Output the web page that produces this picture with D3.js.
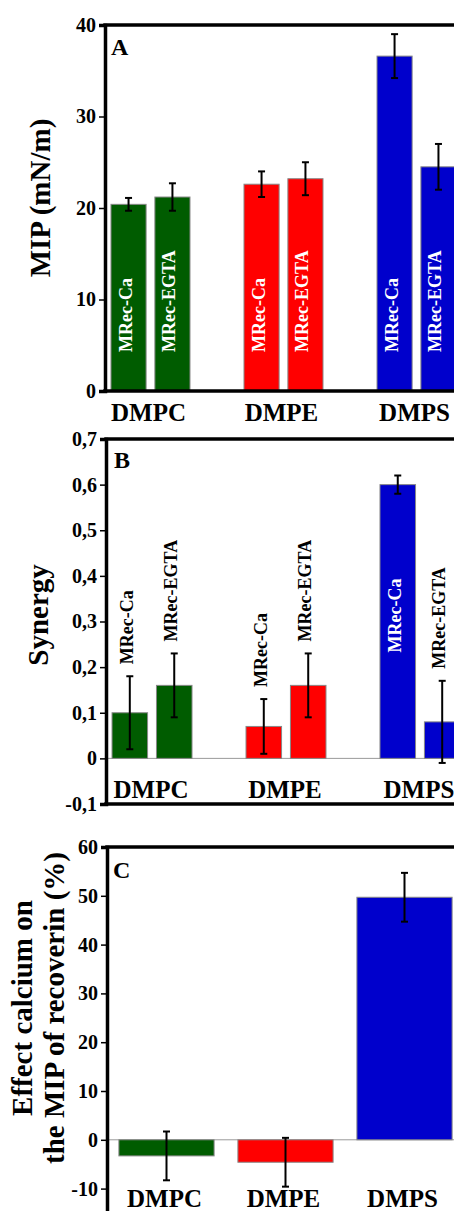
<!DOCTYPE html>
<html>
<head>
<meta charset="utf-8">
<script src="https://cdn.jsdelivr.net/npm/d3@7"></script>
<style>
  html, body { margin: 0; padding: 0; background: #fff; overflow: hidden; }
  svg { display: block; }
  svg text { font-family: "Liberation Serif", "DejaVu Serif", "Times New Roman", Times, serif !important; }
</style>
</head>
<body>
<svg id="chart" width="454" height="1211"></svg>
<script>
// ---------------- data ----------------
const groups = ["DMPC", "DMPE", "DMPS"];
const seriesNames = ["MRec-Ca", "MRec-EGTA"];
const groupColors = ["#005c00", "#ff0000", "#0000cc"];

// Panel A: MIP (mN/m)
const mipCa = [20.4, 22.6, 36.6];
const mipCaErr = [0.7, 1.4, 2.4];
const mipEgta = [21.2, 23.2, 24.5];
const mipEgtaErr = [1.5, 1.8, 2.5];

// Panel B: Synergy
const synCa = [0.10, 0.07, 0.60];
const synCaErr = [0.08, 0.06, 0.02];
const synEgta = [0.16, 0.16, 0.08];
const synEgtaErr = [0.07, 0.07, 0.09];

// Panel C: Effect of calcium on the MIP of recoverin (%)
const effect = [-3.3, -4.6, 49.7];
const effectErr = [5.0, 5.0, 5.0];

const ticksA = [0, 10, 20, 30, 40];
const ticksB = [-0.1, 0, 0.1, 0.2, 0.3, 0.4, 0.5, 0.6, 0.7];
const ticksC = [-10, 0, 10, 20, 30, 40, 50, 60];

// ---------------- drawing ----------------
const FONT = "Liberation Serif, DejaVu Serif, Times New Roman, Times, serif";
const svg = d3.select("#chart");
const W = 454;

function leftAxis(y, ticks, fmt, x0) {
  const g = svg.append("g")
    .attr("transform", `translate(${x0},0)`)
    .call(d3.axisLeft(y).tickValues(ticks).tickFormat(fmt)
      .tickSizeOuter(0).tickSize(6).tickPadding(3));
  g.attr("font-family", null);
  g.select(".domain").attr("stroke", "#000").attr("stroke-width", 3.5);
  g.selectAll(".tick line").attr("stroke", "#000").attr("stroke-width", 1.5);
  g.selectAll(".tick text")
    .attr("font-size", 20).attr("font-weight", "bold")
    .attr("font-family", FONT).attr("fill", "#000");
  return g;
}

function hline(x0, yv, w) {
  svg.append("line")
    .attr("x1", x0 - 1.75).attr("x2", W + 10)
    .attr("y1", yv).attr("y2", yv)
    .attr("stroke", "#000").attr("stroke-width", w || 3.5);
}

function errBar(g, cx, yTop, yBot) {
  g.append("line").attr("x1", cx).attr("x2", cx).attr("y1", yTop).attr("y2", yBot)
    .attr("stroke", "#000").attr("stroke-width", 2);
  [yTop, yBot].forEach(yy => g.append("line")
    .attr("x1", cx - 3.5).attr("x2", cx + 3.5).attr("y1", yy).attr("y2", yy)
    .attr("stroke", "#000").attr("stroke-width", 2));
}

function rotLabel(g, cx, yv, text, color, anchor) {
  g.append("text")
    .attr("transform", `translate(${cx + 3},${yv}) rotate(-90)`)
    .attr("text-anchor", anchor || "start")
    .attr("font-family", FONT).attr("font-weight", "bold").attr("font-size", 18)
    .attr("fill", color).text(text);
}

function panelLetter(x, yv, t) {
  svg.append("text").attr("x", x).attr("y", yv)
    .attr("font-family", FONT).attr("font-weight", "bold").attr("font-size", 24)
    .text(t);
}

function catLabels(xs, yv, offset) {
  svg.append("g").selectAll("text").data(groups).join("text")
    .attr("x", d => xs(d) + xs.bandwidth() / 2 + (offset || 0))
    .attr("y", yv)
    .attr("text-anchor", "middle")
    .attr("font-family", FONT).attr("font-weight", "bold").attr("font-size", 25)
    .text(d => d);
}

function yTitle(lines, cy, baselines) {
  lines.forEach((t, i) => {
    svg.append("text")
      .attr("transform", `translate(${baselines[i]},${cy}) rotate(-90)`)
      .attr("text-anchor", "middle")
      .attr("font-family", FONT).attr("font-weight", "bold").attr("font-size", 29)
      .text(t);
  });
}

// ===== Panel A =====
(function () {
  const x0 = 105;
  const y = d3.scaleLinear().domain([0, 40]).range([391, 25]);
  const xg = d3.scaleBand().domain(groups).range([x0, 462]).paddingInner(0.406).paddingOuter(0.045);
  const xs = d3.scaleBand().domain(seriesNames).range([0, xg.bandwidth()]).paddingInner(0.2);
  const vals = [mipCa, mipEgta], errs = [mipCaErr, mipEgtaErr];
  const g = svg.append("g");
  groups.forEach((grp, gi) => {
    seriesNames.forEach((s, si) => {
      const v = vals[si][gi], e = errs[si][gi];
      const bx = xg(grp) + xs(s);
      g.append("rect").attr("x", bx).attr("y", y(v))
        .attr("width", xs.bandwidth()).attr("height", y(0) - y(v))
        .attr("fill", groupColors[gi]).attr("stroke", "#888").attr("stroke-width", 1);
      errBar(g, bx + xs.bandwidth() / 2, y(v + e), y(v - e));
      rotLabel(g, bx + xs.bandwidth() / 2, y(0) - 39, s, "#fff");
    });
  });
  hline(x0, y(40));
  hline(x0, y(0));
  leftAxis(y, ticksA, d => String(d), x0);
  catLabels(xg, 421, -2);
  panelLetter(111, 55, "A");
  yTitle(["MIP (mN/m)"], 198, [50]);
})();

// ===== Panel B =====
(function () {
  const x0 = 106;
  const y = d3.scaleLinear().domain([-0.1, 0.7]).range([804, 439]);
  const xg = d3.scaleBand().domain(groups).range([x0, 466]).paddingInner(0.403).paddingOuter(0.045);
  const xs = d3.scaleBand().domain(seriesNames).range([0, xg.bandwidth()]).paddingInner(0.2);
  const vals = [synCa, synEgta], errs = [synCaErr, synEgtaErr];
  const g = svg.append("g");
  g.append("line").attr("x1", x0).attr("x2", W + 10).attr("y1", y(0)).attr("y2", y(0))
    .attr("stroke", "#999").attr("stroke-width", 1);
  groups.forEach((grp, gi) => {
    seriesNames.forEach((s, si) => {
      const v = vals[si][gi], e = errs[si][gi];
      const bx = xg(grp) + xs(s);
      const cx = bx + xs.bandwidth() / 2;
      g.append("rect").attr("x", bx).attr("y", y(v))
        .attr("width", xs.bandwidth()).attr("height", y(0) - y(v))
        .attr("fill", groupColors[gi]).attr("stroke", "#888").attr("stroke-width", 1);
      errBar(g, cx, y(v + e), y(v - e));
      if (y(0) - y(v) > 130) {
        rotLabel(g, cx, (y(0) + y(v)) / 2 - 6, s, "#fff", "middle");
      } else {
        rotLabel(g, cx, y(v + e) - 12, s, "#000");
      }
    });
  });
  hline(x0, y(0.7));
  hline(x0, y(-0.1));
  leftAxis(y, ticksB, d => Math.abs(d) < 1e-9 ? "0" : (d < 0 ? "-" : "") + Math.abs(d).toFixed(1).replace(".", ","), x0);
  catLabels(xg, 798, -1);
  panelLetter(114, 468, "B");
  yTitle(["Synergy"], 615, [48]);
})();

// ===== Panel C =====
(function () {
  const x0 = 107;
  const y = d3.scaleLinear().domain([-15, 60]).range([1213, 847]);
  const xg = d3.scaleBand().domain(groups).range([x0, 464]).paddingInner(0.2).paddingOuter(0.1);
  const g = svg.append("g");
  g.append("line").attr("x1", x0).attr("x2", W + 10).attr("y1", y(0)).attr("y2", y(0))
    .attr("stroke", "#999").attr("stroke-width", 1);
  groups.forEach((grp, gi) => {
    const v = effect[gi], e = effectErr[gi];
    const bx = xg(grp);
    g.append("rect").attr("x", bx).attr("y", Math.min(y(v), y(0)))
      .attr("width", xg.bandwidth()).attr("height", Math.abs(y(0) - y(v)))
      .attr("fill", groupColors[gi]).attr("stroke", "#888").attr("stroke-width", 1);
    errBar(g, bx + xg.bandwidth() / 2, y(v + e), y(v - e));
  });
  hline(x0, y(60));
  hline(x0, y(-15));
  leftAxis(y, ticksC, d => (d < 0 ? "-" : "") + Math.abs(d), x0);
  catLabels(xg, 1207, -2);
  panelLetter(113, 878, "C");
  yTitle(["Effect calcium on", "the MIP of recoverin (%)"], 1008, [32, 64]);
})();
</script>
</body>
</html>
